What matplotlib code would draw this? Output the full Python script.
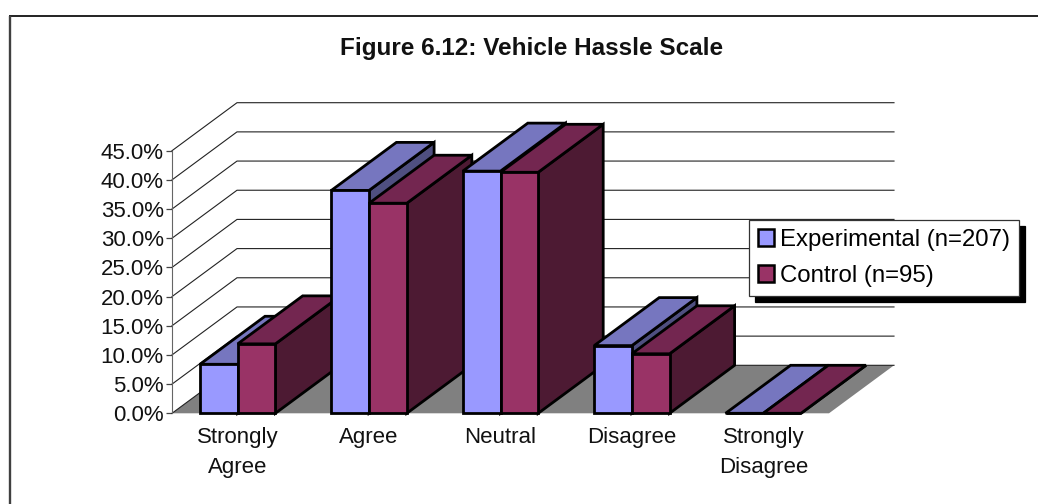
import matplotlib
matplotlib.use("Agg")
import matplotlib.pyplot as plt
from matplotlib.lines import Line2D
from matplotlib.patches import Patch

categories = ["Strongly\nAgree", "Agree", "Neutral", "Disagree", "Strongly\nDisagree"]
experimental = [8.4, 38.2, 41.5, 11.6, 0.0]
control = [11.9, 36.0, 41.3, 10.2, 0.0]
y_ticks = [0, 5, 10, 15, 20, 25, 30, 35, 40, 45]

W, H = 1038, 504
plt.rcParams["font.family"] = ["Liberation Sans", "DejaVu Sans"]

fig = plt.figure(figsize=(W / 100, H / 100), dpi=100)

# outer chart frame, only top and left are inside the picture
fig.add_artist(Line2D([9 / W, 1], [1 - 15.5 / H, 1 - 15.5 / H], transform=fig.transFigure,
                      color="#111111", lw=1.3, solid_capstyle="butt"))
fig.add_artist(Line2D([10 / W, 10 / W], [0, 1 - 16 / H], transform=fig.transFigure,
                      color="#404040", lw=1.7, solid_capstyle="butt"))

# axes sits on the front plane of the 3d box
ax = fig.add_axes([172 / W, 1 - 413.3 / H, 657 / W, 262.6 / H])
ax.set_xlim(0, 5)
ax.set_ylim(0, 45)
ax.patch.set_visible(False)

# depth of the box in data units
dx = 65 / 131.4
dy = 48 / 29.18 * 5


def bar_faces(x0, x1, v):
    front = [(x0, 0), (x1, 0), (x1, v), (x0, v)]
    side = [(x1, 0), (x1 + dx, dy), (x1 + dx, v + dy), (x1, v)]
    top = [(x0, v), (x1, v), (x1 + dx, v + dy), (x0 + dx, v + dy)]
    return front, side, top


# floor
ax.fill([0, 5, 5 + dx, dx], [0, 0, dy, dy], color="#808080", lw=0, clip_on=False, zorder=1)

# walls
for t in y_ticks:
    ax.plot([0, dx, 5 + dx], [t, t + dy, t + dy], color="#222222", lw=0.8, clip_on=False, zorder=2)

bar_w = 37.7 / 131.4
start = 28 / 131.4
z = 3
for i in range(len(categories)):
    for j, (vals, cols) in enumerate([
        (experimental, ("#9999FF", "#7676BF", "#4F4F80")),
        (control, ("#993366", "#732650", "#4D1A33")),
    ]):
        x0 = i + start + j * bar_w
        front, side, top = bar_faces(x0, x0 + bar_w, vals[i])
        for face, col in ((side, cols[2]), (top, cols[1]), (front, cols[0])):
            xs, ys = zip(*face)
            ax.fill(xs, ys, facecolor=col, edgecolor="black", lw=2.0, joinstyle="miter",
                    clip_on=False, zorder=z)
            z += 1

for s in ("top", "right", "bottom"):
    ax.spines[s].set_visible(False)
ax.spines["left"].set_color("#666666")
ax.spines["left"].set_zorder(2)

ax.set_yticks(y_ticks)
ax.set_yticklabels([f"{t:.1f}%" for t in y_ticks], fontsize=16, color="#111111")
ax.tick_params(axis="y", length=4, width=0.9, color="#444444", pad=2)
ax.set_xticks([i + 0.5 for i in range(5)])
ax.set_xticklabels(categories, fontsize=16, color="#111111", linespacing=1.55)
ax.tick_params(axis="x", length=0, pad=10)

fig.text(531.5 / W, 1 - 48 / H, "Figure 6.12: Vehicle Hassle Scale", ha="center", va="center",
         fontsize=17.5, fontweight="bold", color="#111111")

handles = [Patch(facecolor="#9999FF", edgecolor="black", lw=1.8, label="Experimental (n=207)"),
           Patch(facecolor="#993366", edgecolor="black", lw=1.8, label="Control (n=95)")]
leg = fig.legend(handles=handles, loc="upper left", bbox_to_anchor=(749 / W, 1 - 220 / H),
                 bbox_transform=fig.transFigure, fontsize=17.3, frameon=True, fancybox=False,
                 framealpha=1, edgecolor="#333333", borderpad=0.36, labelspacing=0.6,
                 handlelength=0.7, handleheight=0.7, handletextpad=0.25, borderaxespad=0,
                 shadow={"ox": 4.3, "oy": -4.3, "color": "black", "alpha": 1, "shade": 1})
leg.get_frame().set_linewidth(0.9)
leg.set_zorder(100)

fig.savefig("out.png", dpi=100)
